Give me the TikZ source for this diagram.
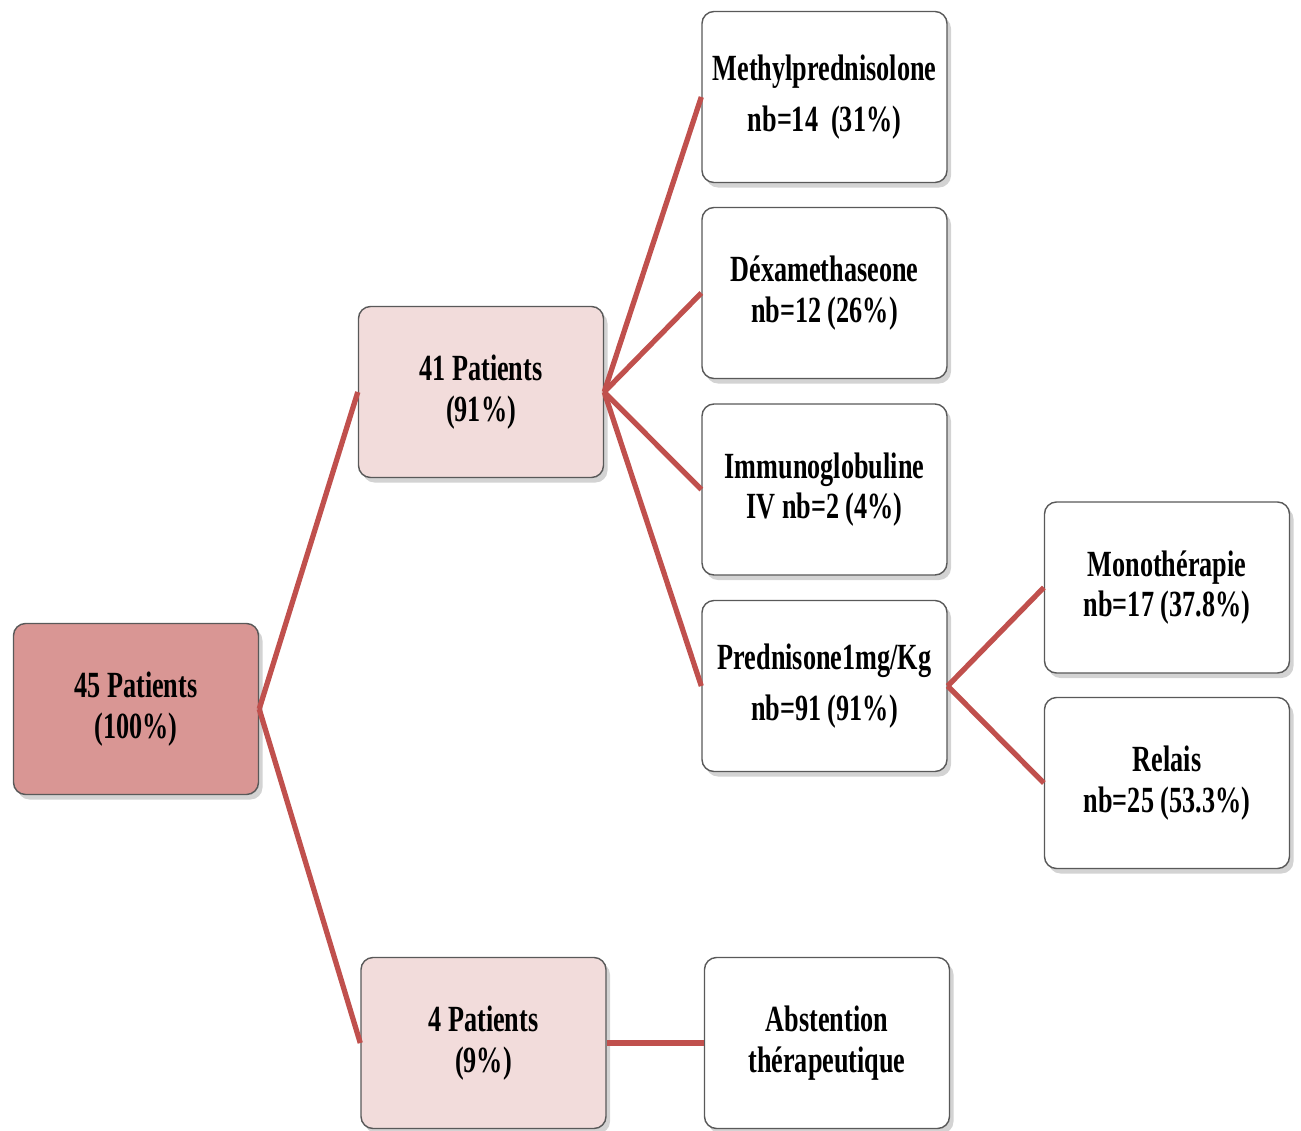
\documentclass[tikz,border=0pt]{standalone}
\usepackage{fontspec}
\setmainfont{Liberation Serif}[FakeStretch=0.71]
\usepackage{tikz}
\usetikzlibrary{shadows, positioning}

\begin{document}
\begin{tikzpicture}[font=\bfseries\fontsize{10.5}{11.5}\selectfont]
    % Define local colors
    \definecolor{linkred}{RGB}{192, 80, 77}
    \definecolor{rootfill}{RGB}{217, 150, 148}
    \definecolor{midfill}{RGB}{242, 220, 219}
    \tikzset{
        box/.style={draw=gray!70!black, rounded corners=0.12cm, minimum width=2.45cm, minimum height=1.71cm,
            inner xsep=2pt, align=center, fill=white,
            drop shadow={shadow xshift=0.04cm, shadow yshift=-0.05cm, opacity=0.35}},
        link/.style={draw=linkred, line width=1.5pt}
    }
    \useasboundingbox (0,0) rectangle (13.01,-11.31);

    % LEVEL 1: all patients
    \node[box, fill=rootfill] (root) at (1.36, -7.09) {45 Patients\\(100\%)};

    % LEVEL 2: treated / untreated
    \node[box, fill=midfill] (treated) at (4.81, -3.92) {41 Patients\\(91\%)};
    \node[box, fill=midfill] (untreated) at (4.835, -10.43) {4 Patients\\(9\%)};

    % LEVEL 3: treatments
    \node[box] (methyl) at (8.245, -0.97) {Methylprednisolone\\[3pt]nb=14~~(31\%)};
    \node[box] (dexa) at (8.245, -2.93) {Déxamethaseone\\nb=12 (26\%)};
    \node[box] (immuno) at (8.245, -4.895) {Immunoglobuline\\IV nb=2 (4\%)};
    \node[box] (pred) at (8.245, -6.86) {Prednisone1mg/Kg\\[3pt]nb=91 (91\%)};
    \node[box] (abst) at (8.27, -10.43) {Abstention\\thérapeutique};

    % LEVEL 4: prednisone follow-up
    \node[box] (mono) at (11.67, -5.875) {Monothérapie\\nb=17 (37.8\%)};
    \node[box] (relais) at (11.67, -7.83) {Relais\\nb=25 (53.3\%)};

    % Connectors
    \foreach \t in {treated, untreated} {
        \draw[link] (root.east) -- (\t.west);
    }
    \foreach \t in {methyl, dexa, immuno, pred} {
        \draw[link] (treated.east) -- (\t.west);
    }
    \foreach \t in {mono, relais} {
        \draw[link] (pred.east) -- (\t.west);
    }
    \draw[link] (untreated.east) -- (abst.west);

\end{tikzpicture}
\end{document}
